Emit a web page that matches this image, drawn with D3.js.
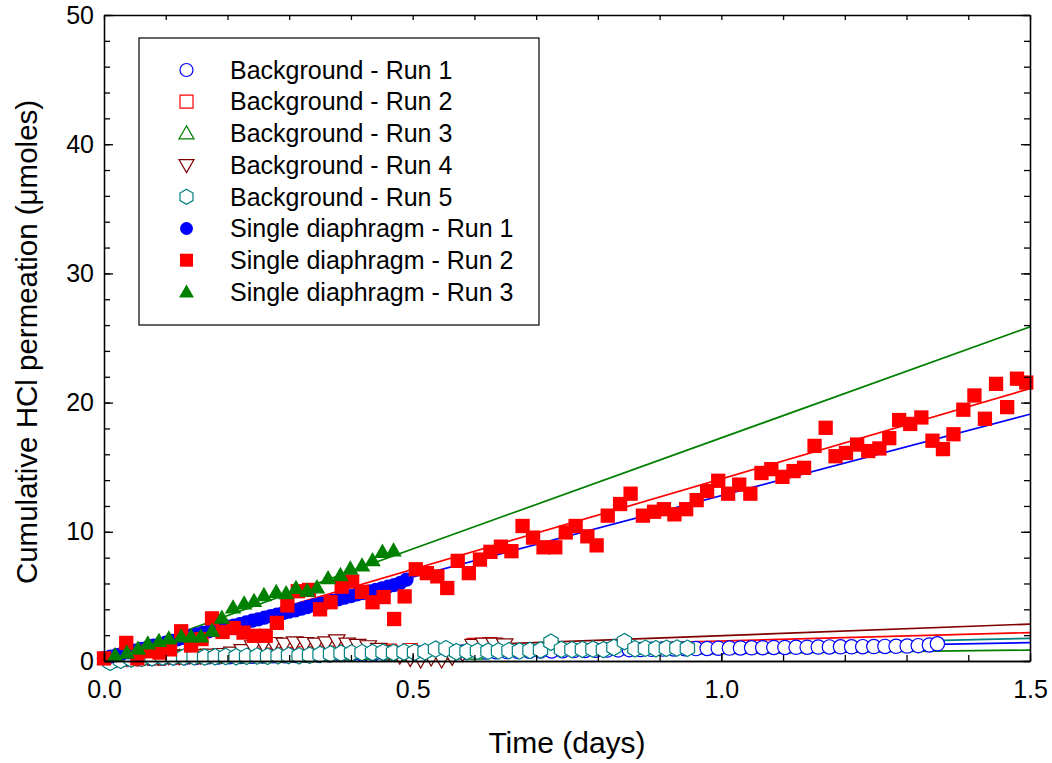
<!DOCTYPE html>
<html>
<head>
<meta charset="utf-8">
<script src="https://cdn.jsdelivr.net/npm/d3@7"></script>
<style>
  body { margin: 0; background: #fff; }
  svg { font-family: "Liberation Sans", Arial, sans-serif; }
</style>
</head>
<body>
<div id="chart"></div>
<script>
// ---- data: [time (days), cumulative HCl (umoles)] ----
const bgRun1 = [
  [0.005, 0.10], [0.023, 0.12], [0.041, 0.15], [0.059, 0.18], [0.077, 0.20], [0.095, 0.22],
  [0.113, 0.25], [0.131, 0.26], [0.149, 0.28], [0.167, 0.30], [0.185, 0.31], [0.203, 0.33],
  [0.221, 0.35], [0.239, 0.36], [0.257, 0.38], [0.275, 0.40], [0.293, 0.41], [0.311, 0.43],
  [0.329, 0.45], [0.347, 0.46], [0.365, 0.48], [0.383, 0.50], [0.401, 0.52], [0.419, 0.53],
  [0.437, 0.55], [0.455, 0.57], [0.473, 0.58], [0.491, 0.60], [0.509, 0.62], [0.527, 0.63],
  [0.545, 0.65], [0.563, 0.66], [0.581, 0.68], [0.599, 0.69], [0.617, 0.70], [0.635, 0.72],
  [0.653, 0.73], [0.671, 0.74], [0.689, 0.76], [0.707, 0.77], [0.725, 0.78], [0.743, 0.80],
  [0.761, 0.81], [0.779, 0.82], [0.797, 0.84], [0.815, 0.85], [0.833, 0.86], [0.851, 0.88],
  [0.869, 0.89], [0.887, 0.90], [0.905, 0.92], [0.923, 0.93], [0.941, 0.95], [0.959, 0.96],
  [0.977, 0.97], [0.995, 0.99], [1.013, 1.00], [1.031, 1.01], [1.049, 1.02], [1.067, 1.03],
  [1.085, 1.05], [1.103, 1.05], [1.121, 1.06], [1.139, 1.07], [1.157, 1.08], [1.175, 1.09],
  [1.193, 1.10], [1.211, 1.10], [1.229, 1.11], [1.247, 1.12], [1.265, 1.13], [1.283, 1.14],
  [1.301, 1.16], [1.319, 1.19], [1.337, 1.24], [1.350, 1.33]
]

const bgRun2 = [
  [0.020, 0.10], [0.054, 0.20], [0.088, 0.25], [0.122, 0.30], [0.156, 0.35], [0.190, 0.40],
  [0.224, 0.45], [0.258, 0.45], [0.292, 0.50], [0.326, 0.55], [0.360, 0.60], [0.394, 0.65],
  [0.428, 0.70], [0.462, 0.75], [0.496, 0.80], [0.600, 1.20], [0.625, 1.25]
]

const bgRun3 = [
  [0.020, 0.05], [0.054, 0.15], [0.088, 0.25], [0.122, 0.28], [0.156, 0.30], [0.190, 0.32],
  [0.224, 0.32], [0.258, 0.35], [0.292, 0.38], [0.326, 0.40], [0.360, 0.48], [0.394, 0.55],
  [0.428, 0.60], [0.462, 0.55], [0.480, 0.50], [0.520, 0.55], [0.560, 0.60], [0.600, 0.62]
]

const bgRun4 = [
  [0.020, 0.15], [0.037, 0.20], [0.054, 0.25], [0.071, 0.30], [0.088, 0.30], [0.105, 0.35],
  [0.122, 0.35], [0.139, 0.40], [0.156, 0.40], [0.173, 0.45], [0.190, 0.50], [0.207, 0.60],
  [0.224, 0.80], [0.241, 1.10], [0.258, 1.30], [0.275, 1.35], [0.292, 1.30], [0.309, 1.40],
  [0.326, 1.35], [0.343, 1.30], [0.360, 1.40], [0.377, 1.55], [0.394, 1.30], [0.411, 1.20],
  [0.428, 1.10], [0.445, 0.90], [0.462, 0.70], [0.479, 0.40], [0.496, 0.20], [0.513, 0.10],
  [0.530, 0.25], [0.547, 0.10], [0.564, 0.30], [0.581, 0.60], [0.598, 1.20], [0.615, 1.30],
  [0.632, 1.30], [0.649, 1.25]
]

const bgRun5 = [
  [0.010, -0.10], [0.027, 0.05], [0.044, 0.15], [0.061, 0.20], [0.078, 0.25], [0.095, 0.30],
  [0.112, 0.30], [0.129, 0.30], [0.146, 0.32], [0.163, 0.30], [0.180, 0.33], [0.197, 0.35],
  [0.214, 0.33], [0.231, 0.36], [0.248, 0.38], [0.265, 0.36], [0.282, 0.40], [0.299, 0.42],
  [0.316, 0.40], [0.333, 0.45], [0.350, 0.50], [0.367, 0.55], [0.384, 0.60], [0.401, 0.62],
  [0.418, 0.65], [0.435, 0.66], [0.452, 0.68], [0.469, 0.66], [0.486, 0.70], [0.503, 0.68],
  [0.520, 0.72], [0.537, 0.92], [0.554, 0.95], [0.571, 0.72], [0.588, 0.74], [0.605, 0.76],
  [0.622, 0.75], [0.639, 0.78], [0.656, 0.80], [0.673, 0.78], [0.690, 0.82], [0.707, 0.85],
  [0.724, 1.45], [0.741, 0.90], [0.758, 0.88], [0.775, 0.90], [0.792, 0.92], [0.809, 0.88],
  [0.826, 1.05], [0.843, 1.50], [0.860, 0.95], [0.877, 0.98], [0.894, 0.95], [0.911, 0.98],
  [0.928, 1.00], [0.945, 0.98]
]

const singleRun1 = [
  [0.00, 0.22], [0.01, 0.33], [0.02, 0.45], [0.03, 0.58], [0.04, 0.66], [0.05, 0.80],
  [0.06, 0.93], [0.07, 1.04], [0.08, 1.18], [0.09, 1.30], [0.10, 1.42], [0.11, 1.55],
  [0.12, 1.68], [0.13, 1.80], [0.14, 1.92], [0.15, 2.05], [0.16, 2.17], [0.17, 2.30],
  [0.18, 2.40], [0.19, 2.55], [0.20, 2.66], [0.21, 2.74], [0.22, 2.86], [0.23, 2.98],
  [0.24, 3.12], [0.25, 3.22], [0.26, 3.35], [0.27, 3.48], [0.28, 3.58], [0.29, 3.70],
  [0.30, 3.82], [0.31, 3.92], [0.32, 4.05], [0.33, 4.18], [0.34, 4.30], [0.35, 4.42],
  [0.36, 4.52], [0.37, 4.66], [0.38, 4.78], [0.39, 4.90], [0.40, 5.02], [0.41, 5.15],
  [0.42, 5.26], [0.43, 5.38], [0.44, 5.50], [0.45, 5.62], [0.46, 5.75], [0.47, 5.88],
  [0.48, 6.05], [0.49, 6.30]
]

const singleRun2 = [
  [0.000, 0.20], [0.036, 1.40], [0.054, 0.20], [0.072, 0.75], [0.090, 0.65], [0.107, 0.90],
  [0.125, 2.30], [0.141, 1.20], [0.158, 1.70], [0.175, 3.30], [0.192, 2.25], [0.210, 2.55],
  [0.226, 2.20], [0.243, 1.95], [0.262, 1.95], [0.280, 2.95], [0.297, 4.30], [0.314, 5.40],
  [0.332, 5.50], [0.350, 4.00], [0.367, 4.55], [0.385, 5.75], [0.402, 6.15], [0.418, 5.35],
  [0.435, 4.55], [0.453, 4.95], [0.470, 3.25], [0.487, 5.00], [0.505, 7.10], [0.523, 6.80],
  [0.540, 6.55], [0.556, 5.65], [0.573, 7.75], [0.591, 6.80], [0.609, 7.85], [0.626, 8.45],
  [0.643, 8.85], [0.660, 8.50], [0.678, 10.45], [0.695, 9.55], [0.712, 8.80], [0.731, 8.80],
  [0.748, 9.95], [0.764, 10.45], [0.783, 9.65], [0.798, 8.95], [0.816, 11.25], [0.836, 12.15],
  [0.853, 12.95], [0.873, 11.25], [0.891, 11.55], [0.907, 11.75], [0.924, 11.35], [0.943, 11.75],
  [0.960, 12.45], [0.977, 13.15], [0.995, 13.95], [1.011, 12.95], [1.029, 13.65], [1.047, 12.95],
  [1.065, 14.55], [1.081, 14.85], [1.099, 14.25], [1.117, 14.70], [1.134, 14.95], [1.151, 16.65],
  [1.169, 18.05], [1.185, 15.85], [1.202, 16.10], [1.220, 16.75], [1.238, 16.25], [1.256, 16.45],
  [1.272, 17.25], [1.288, 18.65], [1.306, 18.35], [1.324, 18.85], [1.342, 17.05], [1.359, 16.40],
  [1.376, 17.55], [1.392, 19.45], [1.410, 20.55], [1.427, 18.75], [1.445, 21.45], [1.463, 19.65],
  [1.479, 21.85], [1.494, 21.55]
]

const singleRun3 = [
  [0.018, 0.45], [0.037, 0.65], [0.055, 0.95], [0.071, 1.35], [0.089, 1.55], [0.105, 1.75],
  [0.125, 1.90], [0.141, 1.90], [0.157, 1.90], [0.175, 2.35], [0.191, 3.35], [0.209, 4.15],
  [0.227, 4.45], [0.243, 4.65], [0.259, 5.10], [0.279, 5.35], [0.295, 5.25], [0.311, 5.65],
  [0.329, 5.45], [0.345, 5.70], [0.363, 6.40], [0.383, 6.65], [0.399, 7.15], [0.418, 7.40],
  [0.435, 7.80], [0.451, 8.45], [0.469, 8.55]
]

const seriesNames = [
  'Background - Run 1', 'Background - Run 2', 'Background - Run 3',
  'Background - Run 4', 'Background - Run 5',
  'Single diaphragm - Run 1', 'Single diaphragm - Run 2', 'Single diaphragm - Run 3'
]
const seriesData = [bgRun1, bgRun2, bgRun3, bgRun4, bgRun5, singleRun1, singleRun2, singleRun3]

// linear fits (intercept, slope per day)
const fitIntercepts = [0.10, 0.26, 0.05, 0.16, 0.10, 0.20, 0.09, 0.07]
const fitSlopes = [0.88, 1.29, 0.53, 1.80, 1.10, 12.6, 14.0, 17.2]

const xTickLabels = [0.0, 0.5, 1.0, 1.5]
const yTickLabels = [0, 10, 20, 30, 40, 50]

// ---- styles ----
const colors = ['#0000ff', '#ff0000', '#008000', '#800000', '#008080', '#0000ff', '#ff0000', '#008000']
const shapes = ['circle', 'square', 'up', 'down', 'hex', 'circle', 'square', 'up']
const filled = [false, false, false, false, false, true, true, true]

const W = 1052
const H = 763
const margin = { top: 15, right: 22, bottom: 102, left: 104 }
const width = W - margin.left - margin.right
const height = H - margin.top - margin.bottom

const x = d3.scaleLinear().domain([0, 1.5]).range([0, width])
const y = d3.scaleLinear().domain([0, 50]).range([height, 0])

// k scales the marker (plot markers are a touch bigger than legend ones)
function markerPath (shape, k) {
  if (shape === 'circle') return d3.symbol(d3.symbolCircle, Math.PI * Math.pow(6.5 * k, 2))()
  if (shape === 'square') return d3.symbol(d3.symbolSquare, Math.pow(13 * k, 2))()
  if (shape === 'up') return `M0,${-7.5 * k}L${7.5 * k},${5.5 * k}L${-7.5 * k},${5.5 * k}Z`
  if (shape === 'down') return `M0,${7.5 * k}L${7.5 * k},${-5.5 * k}L${-7.5 * k},${-5.5 * k}Z`
  const pts = d3.range(6).map((j) => {
    const a = -Math.PI / 2 + j * Math.PI / 3
    return [7.5 * k * Math.cos(a), 7.5 * k * Math.sin(a)]
  })
  return 'M' + pts.join('L') + 'Z'
}

const svg = d3.select('#chart').append('svg')
  .attr('width', W)
  .attr('height', H)

const g = svg.append('g')
  .attr('transform', `translate(${margin.left}, ${margin.top})`)

svg.append('defs').append('clipPath').attr('id', 'plotclip')
  .append('rect')
  .attr('x', 0).attr('y', -10)
  .attr('width', width).attr('height', height + 10)

// ---- fit lines ----
const lineGroup = g.append('g').attr('clip-path', 'url(#plotclip)')
const fitLine = d3.line().x((d) => x(d[0])).y((d) => y(d[1]))

seriesData.forEach((s, i) => {
  const ends = x.domain().map((t) => [t, fitIntercepts[i] + fitSlopes[i] * t])
  lineGroup.append('path')
    .attr('d', fitLine(ends))
    .attr('fill', 'none')
    .attr('stroke', colors[i])
    .attr('stroke-width', 1.7)
})

// ---- markers ----
const markGroup = g.append('g')

seriesData.forEach((s, i) => {
  markGroup.append('g')
    .selectAll('path')
    .data(s)
    .enter().append('path')
    .attr('d', markerPath(shapes[i], 1.1))
    .attr('transform', (d) => `translate(${x(d[0])}, ${y(d[1])})`)
    .attr('fill', filled[i] ? colors[i] : '#fff')
    .attr('stroke', filled[i] ? 'none' : colors[i])
    .attr('stroke-width', 1.2)
})

// ---- axes ----
const fmt = d3.format('.1f')

function styleAxis (sel) {
  sel.selectAll('path, line').attr('stroke', '#000').attr('stroke-width', 1.3)
  sel.selectAll('text').attr('fill', '#000').attr('font-size', 25)
  sel.attr('font-family', null)
}

const xMinor = d3.range(0, 16).map((k) => k / 10)
const yMinor = d3.range(0, 26).map((k) => k * 2)

g.append('g')
  .attr('transform', `translate(0, ${height})`)
  .call(d3.axisBottom(x).tickValues(xMinor).tickSizeInner(-6).tickSizeOuter(0).tickFormat(''))
  .call(styleAxis)

g.append('g')
  .attr('transform', `translate(0, ${height})`)
  .call(d3.axisBottom(x).tickValues(xTickLabels).tickSizeInner(-8).tickSizeOuter(0).tickPadding(19).tickFormat(fmt))
  .call(styleAxis)

g.append('g')
  .call(d3.axisTop(x).tickValues(xMinor).tickSizeInner(-5).tickSizeOuter(0).tickFormat(''))
  .call(styleAxis)

g.append('g')
  .call(d3.axisLeft(y).tickValues(yMinor).tickSizeInner(-6).tickSizeOuter(0).tickFormat(''))
  .call(styleAxis)

g.append('g')
  .call(d3.axisLeft(y).tickValues(yTickLabels).tickSizeInner(-9).tickSizeOuter(0).tickPadding(10))
  .call(styleAxis)

g.append('g')
  .attr('transform', `translate(${width}, 0)`)
  .call(d3.axisRight(y).tickValues(yMinor).tickSizeInner(-6).tickSizeOuter(0).tickFormat(''))
  .call(styleAxis)

g.append('g')
  .attr('transform', `translate(${width}, 0)`)
  .call(d3.axisRight(y).tickValues(yTickLabels).tickSizeInner(-9).tickSizeOuter(0).tickFormat(''))
  .call(styleAxis)

// ---- axis titles ----
svg.append('text')
  .attr('x', margin.left + width / 2)
  .attr('y', 753)
  .attr('text-anchor', 'middle')
  .attr('font-size', 30)
  .text('Time (days)')

svg.append('text')
  .attr('transform', `translate(37, ${margin.top + height / 2 + 4}) rotate(-90)`)
  .attr('text-anchor', 'middle')
  .attr('font-size', 29.5)
  .text('Cumulative HCl permeation (\u03bcmoles)')

// ---- legend ----
const legend = svg.append('g').attr('transform', 'translate(139, 38)')

legend.append('rect')
  .attr('width', 400)
  .attr('height', 287)
  .attr('fill', '#fff')
  .attr('stroke', '#000')
  .attr('stroke-width', 1.2)

const rows = legend.selectAll('.legend-row')
  .data(seriesNames)
  .enter().append('g')
  .attr('class', 'legend-row')
  .attr('transform', (d, i) => `translate(0, ${32 + i * 31.7})`)

rows.append('path')
  .attr('d', (d, i) => markerPath(shapes[i], 1))
  .attr('transform', 'translate(47.5, 0)')
  .attr('fill', (d, i) => filled[i] ? colors[i] : '#fff')
  .attr('stroke', (d, i) => filled[i] ? 'none' : colors[i])
  .attr('stroke-width', 1.2)

rows.append('text')
  .attr('x', 91)
  .attr('dy', '0.35em')
  .attr('font-size', 25)
  .text((d) => d)
</script>
</body>
</html>
